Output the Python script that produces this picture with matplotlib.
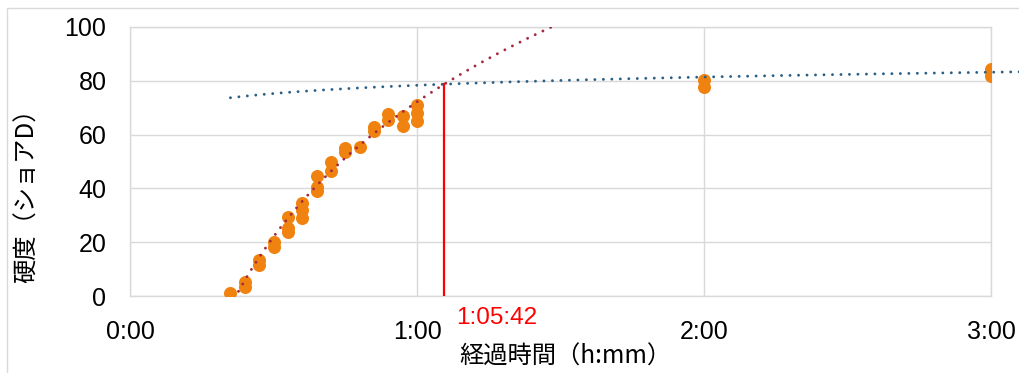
import numpy as np
import matplotlib
matplotlib.use("Agg")
import matplotlib.pyplot as plt
from matplotlib.patches import Rectangle

plt.rcParams['font.family'] = ['Noto Sans CJK JP', 'DejaVu Sans']

# 測定データ（経過時間[分], 硬度ショアD）
times = [21, 24, 24, 27, 27, 30, 30, 33, 33, 33, 36, 36, 36, 39, 39, 39,
         42, 42, 45, 45, 48, 51, 51, 54, 54, 57, 57, 60, 60, 60,
         120, 120, 180, 180]
hardness = [1.0, 5.3, 3.5, 13.4, 11.5, 20.2, 18.3, 29.5, 25.2, 23.9,
            34.7, 32.0, 29.1, 44.7, 40.6, 39.0, 49.9, 46.6, 55.1, 53.4,
            55.5, 62.9, 61.4, 67.5, 65.4, 66.9, 63.3, 71.0, 67.9, 65.2,
            80.3, 77.8, 84.3, 81.8]

# 近似曲線 y = a + b*ln(t)（図から読み取った係数）
red_trend = (-224.25, 72.4)
blue_trend = (60.24, 4.42)
red_range = (21, 92)
blue_range = (21, 187)

cross_min = 65.7  # 1:05:42

xticks = [0, 60, 120, 180]
yticks = [0, 20, 40, 60, 80, 100]


def hmm(m):
    return f"{int(m // 60)}:{int(m % 60):02d}"


def hmmss(m):
    s = int(round(m * 60))
    return f"{s // 3600}:{(s % 3600) // 60:02d}:{s % 60:02d}"


fig = plt.figure(figsize=(10.19, 3.73), dpi=100)
ax = fig.add_axes([130 / 1019, 77 / 373, 861 / 1019, 269 / 373])

grid_c = '#d9d9d9'
ax.scatter(times, hardness, s=88, color='#F0820F', zorder=3, linewidths=0)

tr = np.linspace(*red_range, 200)
ax.plot(tr, red_trend[0] + red_trend[1] * np.log(tr), color='#A32A3F',
        lw=2.1, dashes=(0.01, 2.9), dash_capstyle='round', zorder=4)
tb = np.linspace(*blue_range, 300)
ax.plot(tb, blue_trend[0] + blue_trend[1] * np.log(tb), color='#2A5F86',
        lw=2.1, dashes=(0.01, 2.9), dash_capstyle='round', zorder=4,
        clip_on=False)

y_cross = blue_trend[0] + blue_trend[1] * np.log(cross_min)
ax.plot([cross_min, cross_min], [0, y_cross], color='#FF0000', lw=1.6, zorder=5)
ax.text(cross_min + 2.4, -8, hmmss(cross_min), color='#FF0000',
        fontsize=17.5, family=['Liberation Sans', 'DejaVu Sans'],
        ha='left', va='center')

ax.set_xlim(0, 180)
ax.set_ylim(0, 100)
ax.set_xticks(xticks)
ax.set_xticklabels([hmm(m) for m in xticks])
ax.set_yticks(yticks)
ax.tick_params(length=0, labelsize=18)
ax.tick_params(axis='x', pad=17)
ax.tick_params(axis='y', pad=17)
for lab in ax.get_xticklabels() + ax.get_yticklabels():
    lab.set_family(['Liberation Sans', 'DejaVu Sans'])
ax.grid(True, color=grid_c, lw=1)
ax.set_axisbelow(True)
for sp in ax.spines.values():
    sp.set_color(grid_c)
    sp.set_linewidth(1)

fig.text(565 / 1019, 16 / 373, '経過時間（h:mm）', fontsize=17.5,
         ha='center', va='center')
fig.text(27 / 1019, 183 / 373, '硬度（ショアD）', fontsize=17.5,
         rotation=90, ha='center', va='center')

fig.patches.append(Rectangle((6.5 / 1019, -0.1), 1.2, (365 / 373) + 0.1,
                             transform=fig.transFigure, fill=False,
                             edgecolor=grid_c, lw=1))

fig.savefig('out.png', dpi=100)
